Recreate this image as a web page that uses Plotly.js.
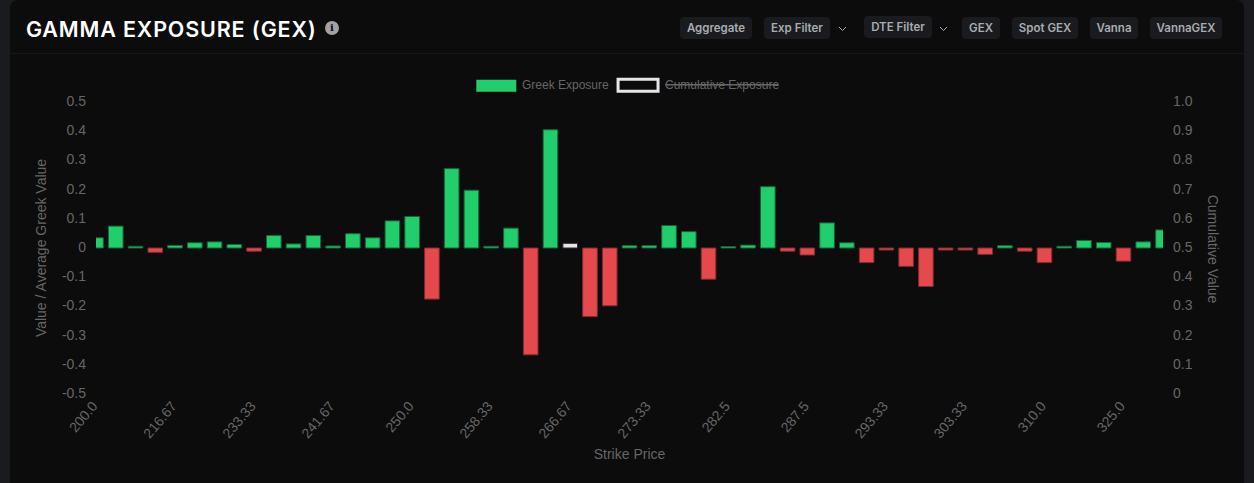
<!DOCTYPE html>
<html>
<head>
<meta charset="utf-8">
<script src="https://cdn.plot.ly/plotly-3.0.1.min.js"></script>
<style>
  html, body { margin: 0; padding: 0; width: 1254px; height: 483px; overflow: hidden; background: #1a1b1e; }
  #card { position: absolute; left: 10px; top: 0; width: 1234px; height: 483px; background: #0c0c0d; border-radius: 8px 8px 0 0; }
  #divider { position: absolute; left: 10px; top: 53px; width: 1234px; height: 1px; background: #17181a; }
  #heading { position: absolute; left: 26px; top: 14px; font: 600 21.5px/30px Inter, sans-serif; letter-spacing: 0.85px; color: #fff; white-space: nowrap; }
  #info { position: absolute; left: 325px; top: 21px; width: 14px; height: 14px; border-radius: 50%; background: #a1a1a6; color: #0c0c0d; font: 700 10px/14px "DejaVu Serif", serif; text-align: center; }
  .btn { position: absolute; height: 22px; background: #1a1b1e; border-radius: 4px; color: #a9abb0; font: 600 11.5px/22px Inter, sans-serif; text-align: center; white-space: nowrap; }
  .chev { position: absolute; top: 26px; width: 9px; height: 6px; }
  #myDiv { position: absolute; left: 0; top: 0; width: 1254px; height: 483px; }
</style>
</head>
<body>
<div id="card"></div>
<div id="divider"></div>
<div id="heading">GAMMA EXPOSURE (GEX)</div>
<div id="info">i</div>
<div class="btn" style="left:680px;top:17px;width:72px">Aggregate</div>
<div class="btn" style="left:764px;top:17px;width:66px">Exp Filter</div>
<svg class="chev" style="left:838px" viewBox="0 0 9 6"><path d="M1 1l3.5 3.5L8 1" fill="none" stroke="#a9abb0" stroke-width="1"/></svg>
<div class="btn" style="left:864px;top:16px;width:68px">DTE Filter</div>
<svg class="chev" style="left:939px" viewBox="0 0 9 6"><path d="M1 1l3.5 3.5L8 1" fill="none" stroke="#a9abb0" stroke-width="1"/></svg>
<div class="btn" style="left:962px;top:17px;width:38px">GEX</div>
<div class="btn" style="left:1012px;top:17px;width:66px">Spot GEX</div>
<div class="btn" style="left:1090px;top:17px;width:48px">Vanna</div>
<div class="btn" style="left:1150px;top:17px;width:72px">VannaGEX</div>
<div id="myDiv"></div>
<script>
// Tick labels shown on the strike axis (one every 4 bars)
var tickLabels = ["200.0","216.67","233.33","241.67","250.0","258.33","266.67","273.33","282.5","287.5","293.33","303.33","310.0","325.0"];
var tickStep = 4;

// Greek exposure per strike, left to right
var gexValues = [0.035,0.075,0.006,-0.015,0.009,0.018,0.021,0.012,-0.011,0.043,
  0.014,0.043,0.007,0.049,0.035,0.093,0.108,-0.175,0.272,0.198,
  0.006,0.068,-0.366,0.405,0.016,-0.235,-0.198,0.008,0.008,0.077,
  0.056,-0.107,0.005,0.010,0.210,-0.011,-0.024,0.086,0.018,-0.050,
  -0.007,-0.063,-0.132,-0.007,-0.007,-0.022,0.008,-0.011,-0.050,0.006,
  0.026,0.019,-0.045,0.021,0.062];
var spotIndex = 24; // the white bar

var green = '#22ce6c', greenEdge = '#14633a';
var red = '#e5484d', redEdge = '#7c2c30';
var white = '#e6e6ea', whiteEdge = '#2c2c2f';

var barX = [], barColors = [], barEdges = [];
for (var i = 0; i < gexValues.length; i++) {
  barX[i] = i;
  if (i == spotIndex) {
    barColors[i] = white; barEdges[i] = whiteEdge;
  } else if (gexValues[i] < 0) {
    barColors[i] = red; barEdges[i] = redEdge;
  } else {
    barColors[i] = green; barEdges[i] = greenEdge;
  }
}

var tickVals = [];
for (var i = 0; i < tickLabels.length; i++) {
  tickVals[i] = i * tickStep;
}

var trace1 = {
  x: barX,
  y: gexValues,
  type: 'bar',
  width: 0.74,
  showlegend: false,
  marker: { color: barColors, line: { color: barEdges, width: 1 } }
};

// hidden series, only keeps the right axis alive
var trace2 = {
  x: [],
  y: [],
  type: 'scatter',
  mode: 'lines',
  yaxis: 'y2',
  showlegend: false
};

var gray = '#666666';
var axisFont = { family: 'Liberation Sans, Arial, sans-serif', size: 14, color: gray };

// plot area in page pixels
var plotL = 95.5, plotR = 1163, plotT = 102.3, plotB = 394.3;
function px(x) { return (x - plotL) / (plotR - plotL); }
function py(y) { return (plotB - y) / (plotB - plotT); }

var layout = {
  width: 1254,
  height: 483,
  margin: { l: plotL, r: 1254 - plotR, t: plotT, b: 483 - plotB, pad: 0 },
  paper_bgcolor: 'rgba(0,0,0,0)',
  plot_bgcolor: 'rgba(0,0,0,0)',
  showlegend: false,
  bargap: 0.26,
  xaxis: {
    range: [0, gexValues.length - 1],
    tickmode: 'array',
    tickvals: tickVals,
    ticktext: tickLabels,
    tickangle: -50,
    tickfont: axisFont,
    ticklabelshift: -3,
    showgrid: false,
    zeroline: false,
    showline: false,
    ticks: '',
    title: { text: 'Strike Price', font: axisFont, standoff: 8 }
  },
  yaxis: {
    range: [-0.5, 0.5],
    tickmode: 'array',
    tickvals: [-0.5,-0.4,-0.3,-0.2,-0.1,0,0.1,0.2,0.3,0.4,0.5],
    ticktext: ['-0.5','-0.4','-0.3','-0.2','-0.1','0','0.1','0.2','0.3','0.4','0.5'],
    tickfont: axisFont,
    ticklabelstandoff: 9,
    ticklabelshift: -1,
    showgrid: false,
    zeroline: false,
    ticks: '',
    title: { text: 'Value / Average Greek Value', font: axisFont, standoff: 11 }
  },
  yaxis2: {
    range: [0, 1],
    overlaying: 'y',
    side: 'right',
    tickmode: 'array',
    tickvals: [0,0.1,0.2,0.3,0.4,0.5,0.6,0.7,0.8,0.9,1],
    ticktext: ['0','0.1','0.2','0.3','0.4','0.5','0.6','0.7','0.8','0.9','1.0'],
    tickfont: axisFont,
    ticklabelstandoff: 9,
    ticklabelshift: -1,
    showgrid: false,
    zeroline: false,
    ticks: ''
  },
  shapes: [
    { type: 'rect', xref: 'paper', yref: 'paper', x0: px(476), x1: px(516), y0: py(92), y1: py(80),
      fillcolor: green, line: { width: 0 } },
    { type: 'rect', xref: 'paper', yref: 'paper', x0: px(617.8), x1: px(657.8), y0: py(91.5), y1: py(79.5),
      fillcolor: 'rgba(0,0,0,0)', line: { color: white, width: 3 } },
    { type: 'line', xref: 'paper', yref: 'paper', x0: px(665), x1: px(778), y0: py(85), y1: py(85),
      line: { color: gray, width: 1.5 } }
  ],
  annotations: [
    { xref: 'paper', yref: 'paper', x: px(520), y: py(85), xanchor: 'left', yanchor: 'middle',
      text: 'Greek Exposure', showarrow: false, font: { family: axisFont.family, size: 12, color: gray } },
    { xref: 'paper', yref: 'paper', x: px(663), y: py(85), xanchor: 'left', yanchor: 'middle',
      text: 'Cumulative Exposure', showarrow: false, font: { family: axisFont.family, size: 12, color: gray } },
    { xref: 'paper', yref: 'paper', x: px(1213), y: py(250), xanchor: 'center', yanchor: 'middle',
      text: 'Cumulative Value', textangle: 90, showarrow: false, font: axisFont }
  ]
};

Plotly.newPlot('myDiv', [trace1, trace2], layout, { displayModeBar: false });
</script>
</body>
</html>
